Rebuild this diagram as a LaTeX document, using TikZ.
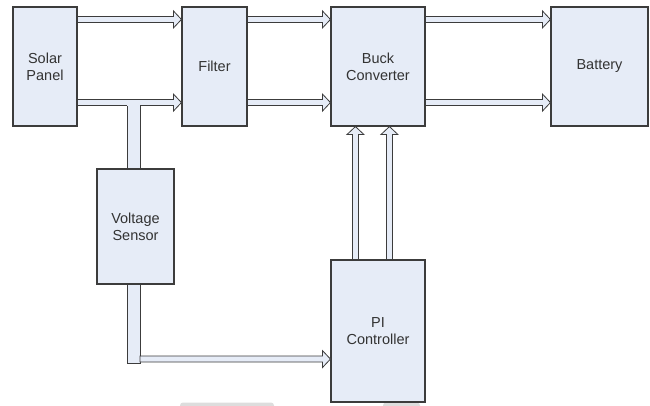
\documentclass[tikz,border=0pt]{standalone}
\usepackage{fontspec}
\setmainfont{Liberation Sans}
\usetikzlibrary{calc}
\definecolor{bf}{HTML}{E6ECF7}
\definecolor{lc}{HTML}{3C3C3C}
\definecolor{tc}{HTML}{333333}
\definecolor{art}{HTML}{DDDDDD}
\tikzset{
  blk/.style={draw=lc, fill=bf, line width=1.1pt, rectangle, inner sep=0pt,
    text=tc, align=center, font=\fontsize{14.5pt}{16.7pt}\selectfont},
  barrow/.style={draw=lc, fill=bf, line width=0.8pt, line join=miter,
    to path={let \p1=(\tikztostart), \p2=(\tikztotarget),
      \n1={veclen(\x2-\x1,\y2-\y1)}, \n2={atan2(\y2-\y1,\x2-\x1)} in
      {[shift={(\p1)}, rotate=\n2]
       (0pt,3pt) -- (\n1-8pt,3pt) -- (\n1-8pt,8.5pt) -- (\n1,0pt)
       -- (\n1-8pt,-8.5pt) -- (\n1-8pt,-3pt) -- (0pt,-3pt) -- cycle}}},
  busline/.style={draw=lc, line width=0.8pt},
}
\begin{document}
\begin{tikzpicture}[x=1pt,y=-1pt]
\useasboundingbox (0,0) rectangle (650,405);
\fill[white] (0,0) rectangle (650,405);

% faint artifacts at the bottom edge
\fill[art, rounded corners=3pt] (180,402.5) rectangle (274,412);
\fill[art, rounded corners=3pt] (383,402.5) rectangle (420,412);

% blocks
\node[blk, minimum width=64pt, minimum height=119pt] (sp) at (45,66.5) {Solar\\Panel};
\node[blk, minimum width=65pt, minimum height=119pt] (fi) at (214.5,66.5) {Filter};
\node[blk, minimum width=94pt, minimum height=119pt] (bc) at (378,66.5) {Buck\\Converter};
\node[blk, minimum width=97pt, minimum height=119pt] (ba) at (599.5,66.5) {Battery};
\node[blk, minimum width=77pt, minimum height=115pt] (vs) at (135.5,226.5) {Voltage\\Sensor};
\node[blk, minimum width=94pt, minimum height=142pt] (pi) at (378,331) {PI\\Controller};

% reference points of the connectors
\coordinate (a1) at ([yshift=-13pt]sp.north east);
\coordinate (a2) at ([yshift=24pt]sp.south east);
\coordinate (f1) at (fi.east |- a1);
\coordinate (f2) at (fi.east |- a2);
\coordinate (c1) at (bc.east |- a1);
\coordinate (c2) at (bc.east |- a2);
\coordinate (v1) at ([xshift=25pt]pi.north west);
\coordinate (v2) at ([xshift=59pt]pi.north west);
\coordinate (bx) at ([xshift=-2pt]vs.center);
\coordinate (bb) at ($(bx |- vs.south)+(0,-79pt)$);
\coordinate (a3) at ($(bb)+(6.5pt,4.5pt)$);

% sensing bus from the lower line to the voltage sensor
\fill[bf] ($(bx |- a2)+(-6.5pt,-3pt)$) rectangle ($(bx |- vs.north)+(6.5pt,0pt)$);
\draw[busline] ($(bx |- a2)+(-6.5pt,-3pt)$) -- ($(bx |- vs.north)+(-6.5pt,0pt)$);
\draw[busline] ($(bx |- a2)+(6.5pt,-3pt)$) -- ($(bx |- vs.north)+(6.5pt,0pt)$);
\filldraw[busline, fill=bf] ($(bb)+(-6.5pt,0pt)$) rectangle ($(bx |- vs.south)+(6.5pt,0pt)$);

% block arrows
\draw[barrow] (a1) to (fi.west |- a1);
\draw[barrow] (a2) to (fi.west |- a2);
\draw[barrow] (f1) to (bc.west |- f1);
\draw[barrow] (f2) to (bc.west |- f2);
\draw[barrow] (c1) to (ba.west |- c1);
\draw[barrow] (c2) to (ba.west |- c2);
\draw[barrow] (v1) to (bc.south -| v1);
\draw[barrow] (v2) to (bc.south -| v2);
\draw[barrow] (a3) to (pi.west |- a3);

% cover the joint between bus and lower arrow
\fill[bf] ($(bx |- a2)+(-6.1pt,-3.5pt)$) rectangle ($(bx |- a2)+(6.1pt,-1.5pt)$);
\end{tikzpicture}
\end{document}
